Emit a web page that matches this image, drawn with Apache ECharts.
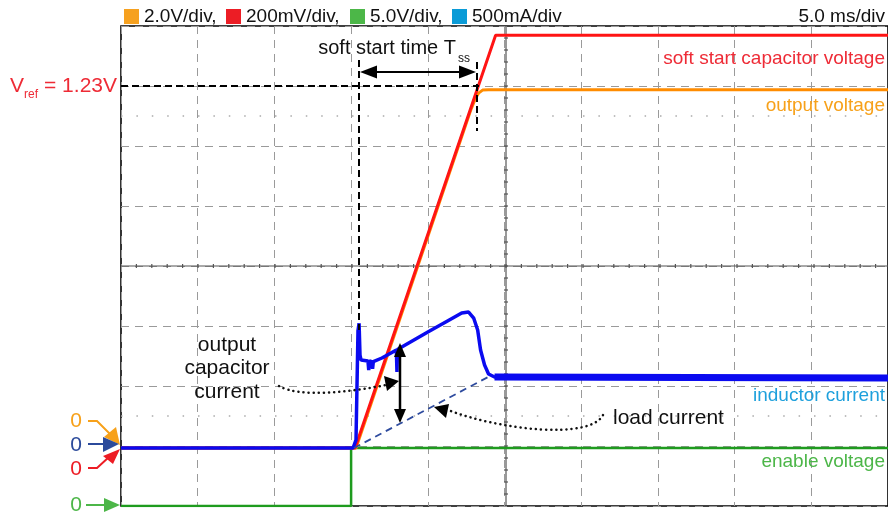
<!DOCTYPE html>
<html><head><meta charset="utf-8">
<script src="https://cdn.jsdelivr.net/npm/echarts@6/dist/echarts.min.js"></script>
<style>html,body{margin:0;padding:0;background:#fff}#c{width:888px;height:513px}</style>
</head><body><div id="c"></div>
<script>
// ---- data (time in ms, 5 ms/div) ----
const legendLabels = ['2.0V/div,', '200mV/div,', '5.0V/div,', '500mA/div'];
const timebase = '5.0 ms/div';
// enable voltage (V), 5.0 V/div
const greenT = [0, 15.0, 15.0, 50];
const greenV = [0, 0, 4.83, 4.83];
// soft start capacitor voltage (V), 200 mV/div
const redT = [0, 15.26, 24.42, 50];
const redV = [0, 0, 1.376, 1.376];
// output voltage (V), 2.0 V/div
const orangeT = [0, 15.32, 22.79, 23.12, 23.31, 23.57, 23.96, 50];
const orangeV = [0, 0, 11.25, 11.67, 11.83, 11.93, 11.94, 11.94];
// inductor current (A), 500 mA/div
const blueT = [0, 15.13, 15.32, 15.45, 15.52, 15.58, 15.65, 16.10, 16.15, 16.20, 16.35, 16.40, 16.45,
  17.01, 17.95, 17.99, 18.02, 20.06, 21.17, 22.21, 22.66, 22.99, 23.25, 23.44, 23.70, 23.96, 24.35, 50];
const blueA = [0, 0, 0.067, 0.98, 1.04, 0.775, 0.733, 0.725, 0.65, 0.725, 0.72, 0.66, 0.72,
  0.75, 0.817, 0.633, 0.821, 0.97, 1.05, 1.125, 1.133, 1.083, 0.983, 0.817, 0.692, 0.617, 0.592, 0.583];

const pairs = (t, v) => t.map((x, i) => [x, v[i]]);
const F = '"Liberation Sans", Arial, Helvetica, sans-serif';

// grid geometry
const GL = 121, GT = 26, GW = 770, GH = 480;
const g = [];
function txt(x, y, s, size, color, align) {
  g.push({type: 'text', z: 20, style: {x, y, text: s, font: size + 'px ' + F, fill: color, align: align || 'left', verticalAlign: 'middle'}});
}
function ln(x1, y1, x2, y2, color, w, dash, z) {
  g.push({type: 'line', z: z || 20, shape: {x1, y1, x2, y2}, style: {stroke: color, lineWidth: w, lineDash: dash || null}});
}
function poly(pts, color) {
  g.push({type: 'polygon', z: 21, shape: {points: pts}, style: {fill: color}});
}
function pl(pts, color, w, dash) {
  g.push({type: 'polyline', z: 20, shape: {points: pts}, style: {stroke: color, lineWidth: w, lineDash: dash || null, fill: null}});
}

// center cross with minor ticks
ln(GL, 266, GL + GW, 266, '#555', 1.2, null, 1);
ln(506, GT, 506, GT + GH, '#555', 1.2, null, 1);
for (let i = 1; i < 50; i++) { const x = GL + i * 15.4; ln(x, 264, x, 268, '#555', 1.2, null, 1); }
for (let i = 1; i < 40; i++) { const y = GT + i * 12; ln(504, y, 508, y, '#555', 1.2, null, 1); }
// dotted half-division rows
ln(GL, 116, GL + GW, 116, '#aaa', 1.5, [1.5, 13.9], 1);
ln(GL, 416, GL + GW, 416, '#aaa', 1.5, [1.5, 13.9], 1);

// legend
const legCols = ['#F6A11F', '#EC1D25', '#4CB748', '#0A9BD7'];
const legX = [124, 226, 350, 452];
legendLabels.forEach((s, i) => {
  g.push({type: 'rect', z: 20, shape: {x: legX[i], y: 9, width: 15, height: 15}, style: {fill: legCols[i]}});
  txt(legX[i] + 20, 17, s, 19, '#111');
});
txt(885, 17, timebase, 19, '#111', 'right');

// right-side labels
txt(885, 59, 'soft start capacitor voltage', 19, '#EE2B36', 'right');
txt(885, 106, 'output voltage', 19, '#F7A11A', 'right');
txt(885, 396, 'inductor current', 19, '#1EA0DC', 'right');
txt(885, 462, 'enable voltage', 19, '#4CB648', 'right');

// Vref
txt(10, 86, 'V', 21, '#EE2B36');
txt(24, 95, 'ref', 12, '#EE2B36');
txt(117, 86, '= 1.23V', 21, '#EE2B36', 'right');
ln(GL, 86, 479, 86, '#000', 2, [7, 4]);

// soft start time
txt(456, 48, 'soft start time T', 20, '#111', 'right');
txt(458, 59, 'ss', 12, '#111');
ln(359, 60, 359, 330, '#000', 2, [7, 4]);
ln(477, 62, 477, 131, '#000', 2, [7, 4]);
ln(372, 72, 463, 72, '#000', 2);
poly([[360, 72], [377, 65.5], [377, 78.5]], '#000');
poly([[476, 72], [459, 65.5], [459, 78.5]], '#000');

// output capacitor current
txt(227, 345, 'output', 21, '#111', 'center');
txt(227, 368, 'capacitor', 21, '#111', 'center');
txt(227, 392, 'current', 21, '#111', 'center');
g.push({type: 'bezierCurve', z: 20, shape: {x1: 279, y1: 386, cpx1: 300, cpy1: 398, cpx2: 350, cpy2: 392, x2: 386, y2: 385},
  style: {stroke: '#111', lineWidth: 2.5, lineDash: [0.1, 5], lineCap: 'round', fill: null}});
poly([[399, 381], [384, 376], [387, 391]], '#000');

// vertical double arrow
ln(400, 355, 400, 410, '#000', 2.5);
poly([[400, 343], [394, 357], [406, 357]], '#000');
poly([[400, 423], [394, 409], [406, 409]], '#000');

// load current
ln(354, 448, 490, 376, '#2E4B9E', 1.8, [7, 5]);
txt(613, 418, 'load current', 21, '#111');
g.push({type: 'bezierCurve', z: 20, shape: {x1: 603, y1: 415, cpx1: 590, cpy1: 440, cpx2: 500, cpy2: 430, x2: 448, y2: 410},
  style: {stroke: '#111', lineWidth: 2.5, lineDash: [0.1, 5], lineCap: 'round', fill: null}});
poly([[434, 407], [449, 404], [446, 418]], '#000');

// zero markers
txt(76, 421, '0', 21, '#F7A11A', 'center');
pl([[88, 421], [97, 421], [110, 434]], '#F7A11A', 2);
poly([[104, 437], [116, 427], [120, 445]], '#F7A11A');
txt(76, 445, '0', 21, '#2B4A9B', 'center');
ln(88, 444, 106, 444, '#2B4A9B', 2);
poly([[103, 437], [103, 452], [119, 444]], '#2B4A9B');
txt(76, 469, '0', 21, '#ED1C24', 'center');
pl([[88, 468], [97, 468], [109, 457]], '#ED1C24', 2);
poly([[103, 456], [113, 464], [120, 449]], '#ED1C24');
txt(76, 505, '0', 21, '#4CB648', 'center');
ln(86, 505, 106, 505, '#4CB648', 2);
poly([[104, 498], [104, 512], [120, 505]], '#4CB648');

const gridDash = {color: '#9a9a9a', type: [8, 6], width: 1};
const hid = (min, max) => ({type: 'value', show: false, min, max, splitLine: {show: false}});
const chart = echarts.init(document.getElementById('c'), null, {renderer: 'canvas'});
chart.setOption({
  animation: false,
  backgroundColor: '#fff',
  grid: {left: GL, top: GT, width: GW, height: GH, show: true, borderColor: '#000', borderWidth: 1.6, backgroundColor: 'transparent'},
  xAxis: {type: 'value', min: 0, max: 50, interval: 5, axisLine: {show: false}, axisTick: {show: false}, axisLabel: {show: false}, splitLine: {lineStyle: gridDash}},
  yAxis: [
    {type: 'value', min: 0, max: 8, interval: 1, axisLine: {show: false}, axisTick: {show: false}, axisLabel: {show: false}, splitLine: {lineStyle: gridDash}},
    hid(-0.2 * 58 / 60, 0.2 * (8 - 58 / 60)),
    hid(-2 * 58 / 60, 2 * (8 - 58 / 60)),
    hid(-0.5 * 58 / 60, 0.5 * (8 - 58 / 60)),
    hid(0, 40)
  ],
  series: [
    {name: 'enable voltage', type: 'line', yAxisIndex: 4, data: pairs(greenT, greenV), showSymbol: false, z: 3, lineStyle: {color: '#1E9B1E', width: 2.5}},
    {name: 'output voltage', type: 'line', yAxisIndex: 2, data: pairs(orangeT, orangeV), showSymbol: false, z: 4, lineStyle: {color: '#FF8C00', width: 3}},
    {name: 'soft start capacitor voltage', type: 'line', yAxisIndex: 1, data: pairs(redT, redV), showSymbol: false, z: 5, lineStyle: {color: '#FF1414', width: 3}},
    {name: 'inductor current', type: 'line', yAxisIndex: 3, data: pairs(blueT, blueA), showSymbol: false, z: 6, lineStyle: {color: '#0A0AF0', width: 3.5}},
    {name: 'inductor current band', type: 'line', yAxisIndex: 3, data: pairs(blueT.slice(-2), blueA.slice(-2)), showSymbol: false, z: 6, lineStyle: {color: '#0A0AF0', width: 7}}
  ],
  graphic: g
});
</script></body></html>
